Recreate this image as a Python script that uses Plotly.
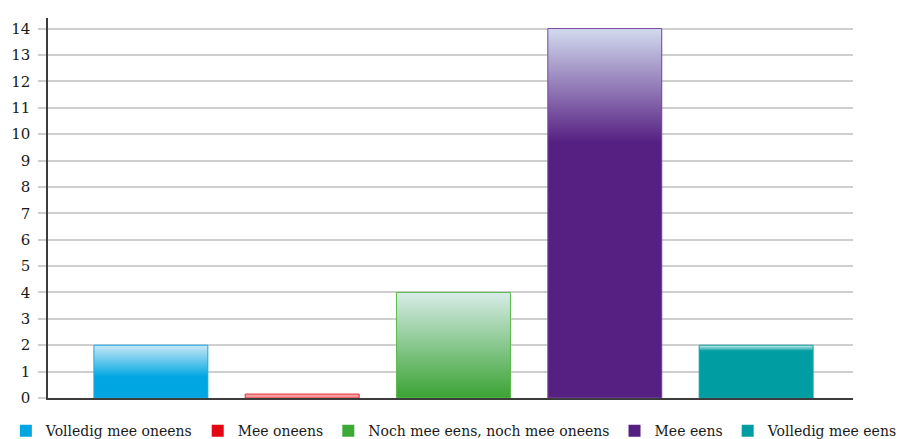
import plotly.graph_objects as go

# ----- Data ----- #

categories = ['Volledig mee oneens', 'Mee oneens', 'Noch mee eens, noch mee oneens', 'Mee eens', 'Volledig mee eens']
values = [2, 0.15, 4, 14, 2]

# ----- Style ----- #

solid_colors = ['#00a6e2', '#e30613', '#3aaa35', '#561f82', '#009ea2']
light_colors = ['#c9e8f7', '#f6a3a3', '#d7ece8', '#d2dbef', '#d3eeee']
bottom_colors = ['#00a6e2', '#f39a9a', '#3aa333', '#561f82', '#009ea2']
border_colors = ['#2aaae4', '#e8313c', '#5eba4c', '#7d4ca4', '#1aa8aa']
# fraction of the bar (from the top) that is covered by the gradient
grad_share = [0.6, 1.0, 1.0, 0.31, 0.11]

bar_width = 0.753
font_family = 'DejaVu Serif'

fig = go.Figure()

for i, cat in enumerate(categories):
    fig.add_trace(go.Bar(
        x=[i], y=[values[i]], name=cat, width=bar_width,
        marker=dict(color=solid_colors[i], line=dict(width=0)),
        hoverinfo='skip',
    ))

# gradient overlay on each bar
for i, cat in enumerate(categories):
    v = values[i]
    x0 = i - bar_width / 2
    x1 = i + bar_width / 2
    fig.add_trace(go.Scatter(
        x=[x0, x1, x1, x0, x0], y=[0, 0, v, v, 0],
        mode='lines', fill='toself', showlegend=False, hoverinfo='skip',
        line=dict(color=border_colors[i], width=1),
        fillgradient=dict(
            type='vertical',
            colorscale=[[0, bottom_colors[i]], [1, light_colors[i]]],
            start=v - v * grad_share[i], stop=v,
        ),
    ))

# margin r=0 and a shorter x domain, so the legend row may use the full width
fig.update_layout(
    width=908, height=439,
    margin=dict(l=48, r=0, t=18, b=41, autoexpand=False),
    plot_bgcolor='white',
    paper_bgcolor='white',
    font=dict(family=font_family, color='#1a1a1a', size=14),
    barmode='overlay',
    showlegend=True,
    legend=dict(
        orientation='h', x=-0.049, xanchor='left', y=-0.045, yanchor='top',
        font=dict(family=font_family, size=14, color='#1a1a1a'),
        bgcolor='rgba(0,0,0,0)', traceorder='normal',
    ),
)

fig.update_xaxes(
    domain=[0, 0.936],
    range=[-0.68, 4.64], showticklabels=False, showgrid=False, zeroline=False,
    showline=True, linecolor='#3c3c3c', linewidth=1.5, ticks='',
)

fig.update_yaxes(
    range=[0, 14.4], dtick=1, tick0=0, automargin=False,
    showgrid=True, gridcolor='#cfcfcf', gridwidth=1.5,
    zeroline=False, showline=True, linecolor='#3c3c3c', linewidth=1.5,
    ticks='outside', ticklen=8, tickcolor='#cfcfcf', tickwidth=1.5,
    ticklabelstandoff=5,
    tickfont=dict(family=font_family, size=15, color='#1a1a1a'),
)

# drop the default page margin so the figure sits at the window corner
fig.write_html("out.html", config={'displayModeBar': False},
               post_script="document.body.style.margin = '0';")
